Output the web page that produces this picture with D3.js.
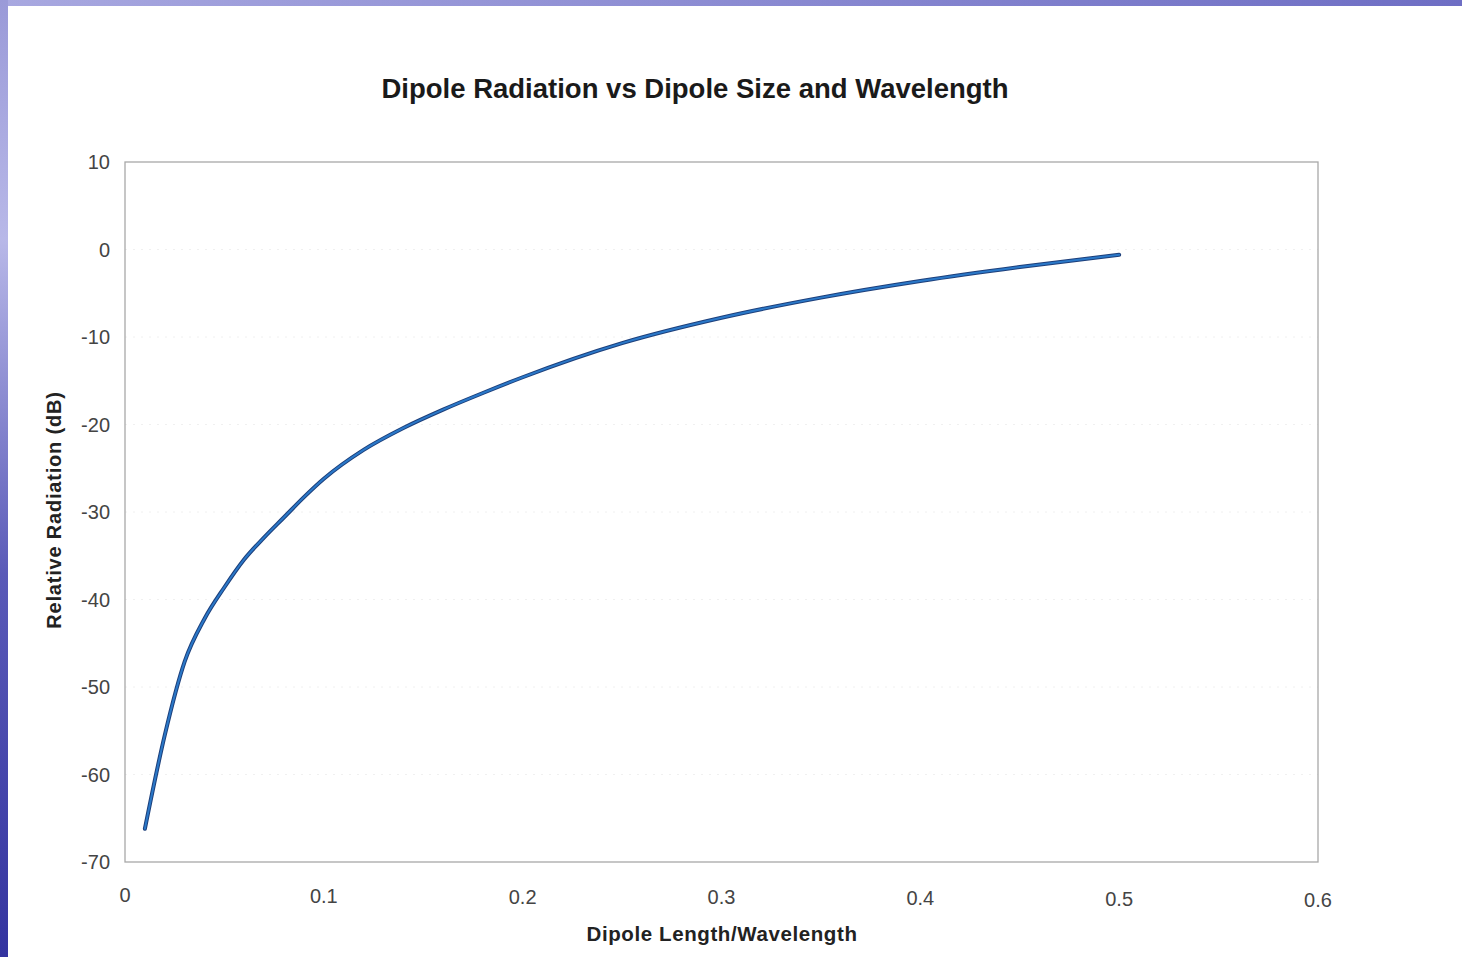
<!DOCTYPE html>
<html><head><meta charset="utf-8">
<script src="https://cdn.jsdelivr.net/npm/d3@7"></script>
<style>html,body{margin:0;padding:0;background:#fff;overflow:hidden}</style>
</head><body>
<svg id="c" width="1462" height="957"></svg>
<script>
const xValues = [0.01,0.02,0.03,0.04,0.05,0.06,0.07,0.08,0.09,0.1,0.12,0.14,0.16,0.18,0.2,0.25,0.3,0.35,0.4,0.45,0.5];
const yValues = [-66.2,-55.5,-47.1,-42.2,-38.6,-35.4,-32.9,-30.6,-28.3,-26.2,-22.9,-20.4,-18.3,-16.4,-14.6,-10.7,-7.8,-5.5,-3.6,-2.0,-0.6];
const xTicks = [0,0.1,0.2,0.3,0.4,0.5,0.6];
const yTicks = [10,0,-10,-20,-30,-40,-50,-60,-70];
const titleText = "Dipole Radiation vs Dipole Size and Wavelength";
const xTitle = "Dipole Length/Wavelength";
const yTitle = "Relative Radiation (dB)";

const svg = d3.select("#c");
const defs = svg.append("defs");
const gl = defs.append("linearGradient").attr("id","lg").attr("x1",0).attr("y1",0).attr("x2",0).attr("y2",1);
gl.append("stop").attr("offset","0%").attr("stop-color","#9a9ad8");
gl.append("stop").attr("offset","25%").attr("stop-color","#b8b8e8");
gl.append("stop").attr("offset","60%").attr("stop-color","#5a5ab8");
gl.append("stop").attr("offset","100%").attr("stop-color","#3434a0");
const gt = defs.append("linearGradient").attr("id","tg").attr("x1",0).attr("y1",0).attr("x2",1).attr("y2",0);
gt.append("stop").attr("offset","0%").attr("stop-color","#a8a8e0");
gt.append("stop").attr("offset","100%").attr("stop-color","#6e6ec4");
svg.append("rect").attr("x",0).attr("y",0).attr("width",1462).attr("height",6).attr("fill","url(#tg)");
svg.append("rect").attr("x",0).attr("y",0).attr("width",8).attr("height",957).attr("fill","url(#lg)");

const L = 125, R = 1318, T = 162, B = 862;
const x = d3.scaleLinear().domain([0,0.6]).range([L,R]);
const y = d3.scaleLinear().domain([-70,10]).range([B,T]);

// faint gridlines
svg.append("g").selectAll("line").data(yTicks.slice(1,-1)).join("line")
  .attr("x1",L).attr("x2",R).attr("y1",d=>y(d)).attr("y2",d=>y(d))
  .attr("stroke","#f0f0f0").attr("stroke-width",1).attr("stroke-dasharray","2,6");

// frame
svg.append("rect").attr("x",L).attr("y",T).attr("width",R-L).attr("height",B-T)
  .attr("fill","none").attr("stroke","#a8a8a8").attr("stroke-width",1.3);

const font = "'Liberation Sans', Arial, sans-serif";
// y tick labels
svg.append("g").selectAll("text").data(yTicks).join("text")
  .attr("x",110).attr("y",d=>y(d)+7).attr("text-anchor","end")
  .attr("font-family",font).attr("font-size",20).attr("fill","#444")
  .text(d=>d);
// x tick labels
svg.append("g").selectAll("text").data(xTicks).join("text")
  .attr("x",d=>x(d)).attr("y",d=>902 + d*8).attr("text-anchor","middle")
  .attr("font-family",font).attr("font-size",20).attr("fill","#444")
  .text(d=>d);

// line
const line = d3.line().x((d,i)=>x(xValues[i])).y(d=>y(d)).curve(d3.curveMonotoneX);
svg.append("path").datum(yValues).attr("d",line)
  .attr("fill","none").attr("stroke","#1d3f7a").attr("stroke-width",4).attr("stroke-linejoin","round").attr("stroke-linecap","round");
svg.append("path").datum(yValues).attr("d",line)
  .attr("fill","none").attr("stroke","#2a78c8").attr("stroke-width",2).attr("stroke-linejoin","round").attr("stroke-linecap","round");

// titles
svg.append("text").attr("x",695).attr("y",98).attr("text-anchor","middle")
  .attr("font-family",font).attr("font-weight","bold").attr("font-size",27.5).attr("fill","#1a1a1a")
  .text(titleText);
svg.append("text").attr("x",722).attr("y",941).attr("text-anchor","middle")
  .attr("font-family",font).attr("font-weight","bold").attr("font-size",20.5).attr("letter-spacing",0.6).attr("fill","#222")
  .text(xTitle);
svg.append("text").attr("transform","translate(61,510) rotate(-90)").attr("text-anchor","middle")
  .attr("font-family",font).attr("font-weight","bold").attr("font-size",20).attr("letter-spacing",0.8).attr("fill","#222")
  .text(yTitle);
</script>
</body></html>
